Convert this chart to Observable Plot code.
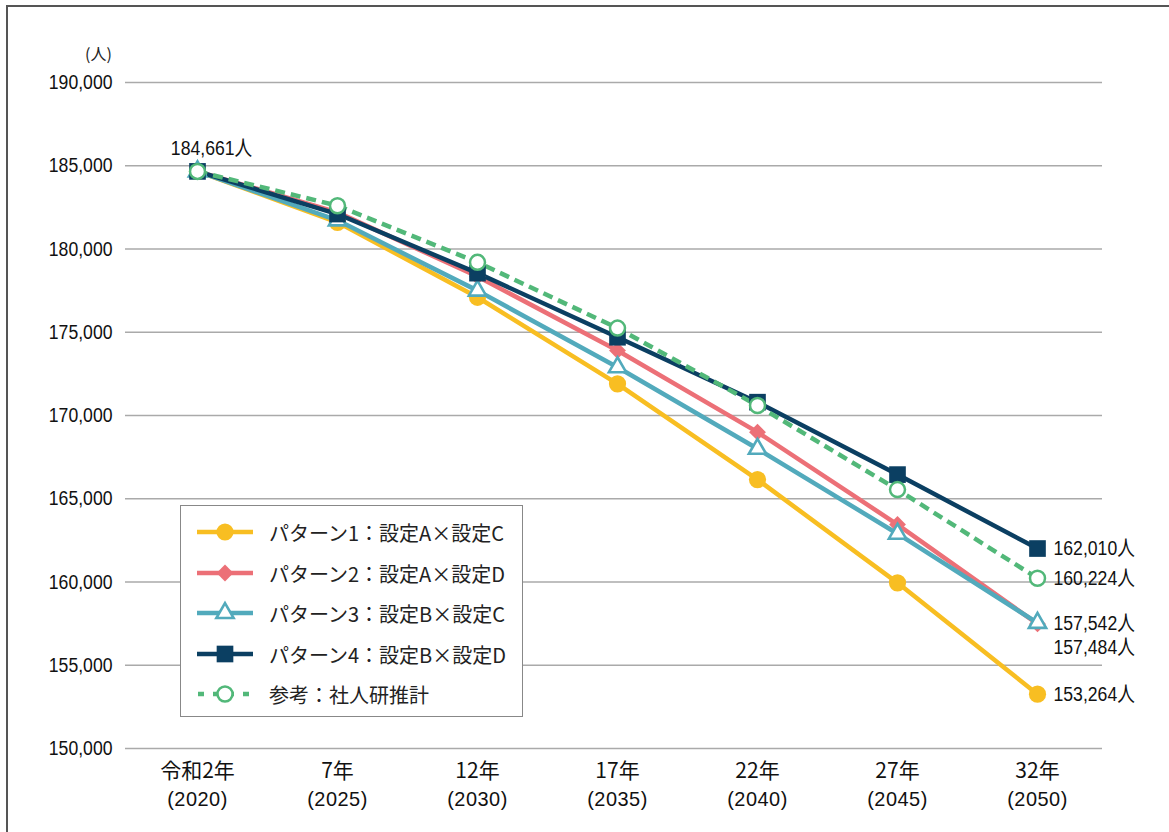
<!DOCTYPE html>
<html>
<head>
<meta charset="utf-8">
<script src="https://cdn.jsdelivr.net/npm/d3@7"></script>
<script src="https://cdn.jsdelivr.net/npm/@observablehq/plot@0.6"></script>
<style>
  html, body { margin: 0; padding: 0; background: #fff; }
  #wrap { position: relative; width: 1169px; height: 832px; overflow: hidden; font-family: "Noto Sans CJK JP", sans-serif; }
  #frame { position: absolute; left: 6px; top: 5px; width: 1200px; height: 900px; border-left: 2px solid #555; border-top: 2px solid #555; box-sizing: border-box; }
  #chart { position: absolute; left: 0; top: 0; }
  #ylab { position: absolute; left: 85px; top: 43px; font-size: 16px; line-height: 20px; font-family: "Noto Sans CJK JP", sans-serif; color: #222; }
  #legend { position: absolute; left: 180px; top: 505px; width: 343px; height: 212px; border: 1px solid #888; box-sizing: border-box; background: #fff; }
  .lg { position: absolute; left: 0; height: 30px; display: flex; align-items: center; }
  .lg svg { margin-left: 16px; }
  .lg span { margin-left: 16px; font-family: "Noto Sans CJK JP", sans-serif; font-size: 20px; color: #222; white-space: nowrap; }
</style>
</head>
<body>
<div id="wrap">
  <div id="frame"></div>
  <div id="chart"></div>
  <div id="ylab">(人)</div>
  <div id="legend"></div>
</div>
<script>
const years = [2020, 2025, 2030, 2035, 2040, 2045, 2050];
const tickLine1 = ["令和2年", "7年", "12年", "17年", "22年", "27年", "32年"];
const tickLine2 = ["(2020)", "(2025)", "(2030)", "(2035)", "(2040)", "(2045)", "(2050)"];
const seriesNames = ["パターン1：設定A×設定C", "パターン2：設定A×設定D", "パターン3：設定B×設定C", "パターン4：設定B×設定D", "参考：社人研推計"];
const pattern1 = [184661, 181600, 177100, 171900, 166150, 159950, 153264];
const pattern2 = [184661, 182200, 178350, 173900, 169000, 163450, 157484];
const pattern3 = [184661, 181720, 177500, 172900, 168000, 162900, 157542];
const pattern4 = [184661, 182100, 178550, 174700, 170800, 166450, 162010];
const reference = [184661, 182600, 179200, 175250, 170600, 165550, 160224];
const colors = ["#F8BE22", "#EC7077", "#52AABC", "#0B3F62", "#52B879"];
const yTicks = [150000, 155000, 160000, 165000, 170000, 175000, 180000, 185000, 190000];

const allSeries = [pattern1, pattern2, pattern3, pattern4, reference];
const rows = [];
allSeries.forEach((vals, i) => vals.forEach((v, j) => rows.push({series: i, year: years[j], value: v})));
const bySeries = i => rows.filter(d => d.series === i);

const fmt = d3.format(",");
const narrowFont = '"Liberation Sans", Arial, "Noto Sans CJK JP", sans-serif';
const cjkFont = '"Noto Sans CJK JP", sans-serif';
const lastIdx = years.length - 1;
const endMain = [0, 2, 3, 4].map(s => ({year: years[lastIdx], value: allSeries[s][lastIdx]}));
const endBelow = [1].map(s => ({year: years[lastIdx], value: allSeries[s][lastIdx]}));

const markerSpecs = [
  {symbol: "circle", r: 8.6, fill: colors[0], stroke: "none", sw: 0},
  {symbol: "diamond2", r: 7.6, fill: colors[1], stroke: "none", sw: 0},
  {symbol: "triangle", r: 6.4, fill: "white", stroke: colors[2], sw: 2.6},
  {symbol: "square", r: 9.4, fill: colors[3], stroke: "none", sw: 0},
  {symbol: "circle", r: 7.5, fill: "white", stroke: colors[4], sw: 2.5}
];

const marks = [
  Plot.gridY(yTicks, {stroke: "#aaa", strokeOpacity: 1, strokeWidth: 1.6}),
  Plot.axisY(yTicks, {tickSize: 0, tickPadding: 13, tickFormat: fmt, fontSize: 21, fontFamily: narrowFont, label: null}),
  Plot.axisX(years, {tickSize: 0, tickPadding: 15, tickFormat: d => tickLine1[years.indexOf(d)], fontSize: 21, fontFamily: cjkFont, label: null}),
  Plot.axisX(years, {tickSize: 0, tickPadding: 43, tickFormat: d => tickLine2[years.indexOf(d)], fontSize: 21, fontFamily: narrowFont, label: null})
];
for (let i = 0; i < 5; i++) {
  marks.push(Plot.line(bySeries(i), {x: "year", y: "value", stroke: colors[i], strokeWidth: 4.5,
    strokeDasharray: i === 4 ? "10,6" : null, strokeLinecap: "butt"}));
}
for (let i = 0; i < 5; i++) {
  const m = markerSpecs[i];
  marks.push(Plot.dot(bySeries(i), {x: "year", y: "value", symbol: () => m.symbol, r: m.r, fill: m.fill,
    stroke: m.stroke, strokeWidth: m.sw}));
}
marks.push(Plot.text([{year: years[0], value: pattern1[0]}], {x: "year", y: "value", text: d => fmt(d.value) + "人",
  dx: 14, dy: -23, fontSize: 21, fontFamily: narrowFont, fill: "#111"}));
marks.push(Plot.text(endMain, {x: "year", y: "value", text: d => fmt(d.value) + "人",
  dx: 16, textAnchor: "start", fontSize: 21, fontFamily: narrowFont, fill: "#111"}));
marks.push(Plot.text(endBelow, {x: "year", y: "value", text: d => fmt(d.value) + "人",
  dx: 16, dy: 23, textAnchor: "start", fontSize: 21, fontFamily: narrowFont, fill: "#111"}));

const chart = Plot.plot({
  width: 1169,
  height: 832,
  marginLeft: 125,
  marginRight: 67,
  marginTop: 82,
  marginBottom: 84,
  style: {fontFamily: narrowFont, color: "#111", background: "transparent"},
  x: {type: "point", domain: years, range: [195, 1039], padding: 0},
  y: {domain: [150000, 190000]},
  marks
});

// condense the Latin-number labels horizontally around their anchor points
function condense(sel, k) {
  chart.querySelectorAll(sel).forEach(t => {
    const tr = t.getAttribute("transform") || "";
    t.setAttribute("transform", tr + ` scale(${k},1)`);
  });
}
condense('g[aria-label="y-axis tick label"] text', 0.84);
condense('g[aria-label="text"] text', 0.84);
chart.querySelectorAll('g[aria-label="x-axis tick label"]').forEach((g, gi) => {
  if (gi === 1) g.querySelectorAll("text").forEach(t => {
    const tr = t.getAttribute("transform") || "";
    t.setAttribute("transform", tr + " scale(0.95,1)");
    t.setAttribute("letter-spacing", "0.5");
  });
});
document.getElementById("chart").appendChild(chart);

// legend
const legend = document.getElementById("legend");
const legendTops = [11, 52, 92, 133, 173];
seriesNames.forEach((name, i) => {
  const m = markerSpecs[i];
  const symType = {circle: d3.symbolCircle, diamond2: d3.symbolDiamond2, triangle: d3.symbolTriangle, square: d3.symbolSquare}[m.symbol];
  const path = d3.symbol(symType, Math.PI * m.r * m.r)();
  const div = document.createElement("div");
  div.className = "lg";
  div.style.top = legendTops[i] + "px";
  const dash = i === 4 ? ' stroke-dasharray="6,9" stroke-dashoffset="-1"' : '';
  div.innerHTML = `<svg width="56" height="30" viewBox="0 0 56 30">
    <line x1="0" x2="56" y1="15" y2="15" stroke="${colors[i]}" stroke-width="4.5"${dash}/>
    <path d="${path}" transform="translate(28,15)" fill="${m.fill}" stroke="${m.stroke}" stroke-width="${m.sw}"/>
  </svg><span>${name}</span>`;
  legend.appendChild(div);
});
</script>
</body>
</html>
